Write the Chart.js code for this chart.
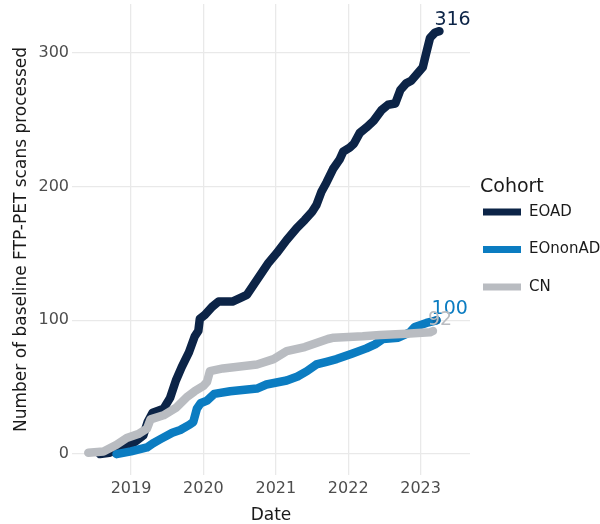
<!DOCTYPE html>
<html>
<head>
<meta charset="utf-8">
<script src="https://cdn.jsdelivr.net/npm/chart.js@4.4.1/dist/chart.umd.min.js"></script>
<style>
  html, body { margin: 0; padding: 0; background: #fff; }
  #wrap { width: 600px; height: 524px; }
</style>
</head>
<body>
<div id="wrap"><canvas id="chart" width="600" height="524"></canvas></div>
<script>
const yearTicks = [2019, 2020, 2021, 2022, 2023];
const countTicks = [0, 100, 200, 300];
const cohorts = ["EOAD", "EOnonAD", "CN"];
const colors = ["#0c2447", "#0b7cc1", "#b9bcc1"];

// cumulative counts, x in decimal years
const eoadX = [2018.57, 2018.70, 2018.80, 2018.92, 2019.05, 2019.17, 2019.23, 2019.30, 2019.45, 2019.54,
  2019.62, 2019.70, 2019.80, 2019.88, 2019.93, 2019.95, 2020.02, 2020.12, 2020.21, 2020.40,
  2020.52, 2020.60, 2020.70, 2020.80, 2020.90, 2021.01, 2021.15, 2021.29, 2021.40, 2021.50,
  2021.56, 2021.63, 2021.70, 2021.79, 2021.88, 2021.93, 2022.02, 2022.08, 2022.16, 2022.25,
  2022.35, 2022.46, 2022.55, 2022.65, 2022.72, 2022.80, 2022.87, 2022.95, 2023.03, 2023.07,
  2023.13, 2023.20, 2023.26];
const eoadY = [0, 1, 3, 6, 9, 14, 24, 31, 34, 42,
  55, 65, 76, 88, 92, 101, 104, 110, 114, 114,
  117, 119, 127, 135, 143, 150, 160, 169, 175, 181,
  186, 196, 203, 213, 220, 226, 229, 232, 240, 244,
  249, 257, 261, 262, 272, 277, 279, 284, 289, 298,
  311, 315, 316];

const eononX = [2018.80, 2019.00, 2019.22, 2019.30, 2019.40, 2019.57, 2019.68, 2019.81, 2019.86, 2019.91,
  2019.96, 2020.05, 2020.15, 2020.37, 2020.74, 2020.87, 2021.15, 2021.30, 2021.43, 2021.56,
  2021.70, 2021.84, 2022.05, 2022.25, 2022.37, 2022.48, 2022.69, 2022.85, 2022.92, 2023.08,
  2023.22];
const eononY = [0, 2, 5, 8, 11, 16, 18, 22, 24, 34,
  38, 40, 45, 47, 49, 52, 55, 58, 62, 67,
  69, 71, 75, 79, 82, 86, 87, 91, 95, 98,
  100];

const cnX = [2018.41, 2018.62, 2018.80, 2018.94, 2019.10, 2019.22, 2019.27, 2019.45, 2019.63, 2019.78,
  2019.88, 2020.00, 2020.05, 2020.09, 2020.27, 2020.74, 2020.97, 2021.15, 2021.40, 2021.56,
  2021.72, 2021.80, 2022.20, 2022.44, 2022.80, 2023.13, 2023.17];
const cnY = [1, 2, 7, 12, 15, 19, 26, 29, 35, 43,
  47, 51, 54, 62, 64, 67, 71, 77, 80, 83,
  86, 87, 88, 89, 90, 91, 92];

const seriesX = [eoadX, eononX, cnX];
const seriesY = [eoadY, eononY, cnY];
const drawOrder = [2, 1, 0];

const FONT = "'DejaVu Sans', Verdana, sans-serif";

const datasets = cohorts.map((name, i) => ({
  label: name,
  data: seriesX[i].map((x, k) => ({ x, y: seriesY[i][k] })),
  borderColor: colors[i],
  backgroundColor: colors[i],
  borderWidth: 8.5,
  borderCapStyle: "round",
  borderJoinStyle: "round",
  tension: 0,
  order: drawOrder[i],
  pointRadius: ctx => (i === 1 && ctx.dataIndex === seriesX[i].length - 1) ? 4 : 0,
  pointBackgroundColor: "#0a6aa8",
  pointBorderWidth: 0
}));

const endLabels = {
  id: "endLabels",
  afterDatasetsDraw(chart) {
    const { ctx } = chart;
    ctx.save();
    ctx.font = "19px " + FONT;
    ctx.textAlign = "left";
    ctx.textBaseline = "middle";
    [0, 1, 2].forEach(i => {
      const meta = chart.getDatasetMeta(i);
      const last = meta.data[meta.data.length - 1];
      const val = seriesY[i][seriesY[i].length - 1];
      ctx.fillStyle = colors[i];
      ctx.fillText(String(val), last.x - 5, last.y - 11);
    });
    ctx.restore();
  }
};

const cohortLegend = {
  id: "cohortLegend",
  afterDraw(chart) {
    const { ctx } = chart;
    const left = chart.chartArea.right + 10;
    ctx.save();
    ctx.fillStyle = "#1a1a1a";
    ctx.textAlign = "left";
    ctx.textBaseline = "middle";
    ctx.font = "19px " + FONT;
    ctx.fillText("Cohort", left, 187);
    ctx.font = "15px " + FONT;
    cohorts.forEach((name, i) => {
      const y = 212 + i * 37.5;
      ctx.strokeStyle = colors[i];
      ctx.lineWidth = 7;
      ctx.beginPath();
      ctx.moveTo(left + 3, y);
      ctx.lineTo(left + 41, y);
      ctx.stroke();
      ctx.fillStyle = "#1a1a1a";
      ctx.fillText(name, left + 49, y);
    });
    ctx.restore();
  }
};

new Chart(document.getElementById("chart"), {
  type: "line",
  data: { datasets },
  plugins: [endLabels, cohortLegend],
  options: {
    responsive: false,
    animation: false,
    layout: { padding: { left: 0, right: 130, top: 0, bottom: 0 } },
    plugins: { legend: { display: false }, tooltip: { enabled: false } },
    scales: {
      x: {
        type: "linear",
        min: 2018.185,
        max: 2023.682,
        afterBuildTicks: s => { s.ticks = yearTicks.map(v => ({ value: v })); },
        afterFit: s => { s.height = 49; s.paddingLeft = 0; s.paddingRight = 0; },
        grid: { color: "#e9e9e9", lineWidth: 1.3, drawTicks: false },
        border: { display: false },
        ticks: { color: "#4d4d4d", font: { family: FONT, size: 16 }, padding: 4, callback: v => String(v) },
        title: { display: true, text: "Date", color: "#1a1a1a", font: { family: FONT, size: 17, lineHeight: 1 }, padding: { top: 0, bottom: 0 } }
      },
      y: {
        type: "linear",
        min: -15.6,
        max: 336.3,
        afterBuildTicks: s => { s.ticks = countTicks.map(v => ({ value: v })); },
        afterFit: s => { s.width = 72; s.paddingTop = 0; s.paddingBottom = 0; },
        grid: { color: "#e9e9e9", lineWidth: 1.3, drawTicks: false },
        border: { display: false },
        ticks: { color: "#4d4d4d", font: { family: FONT, size: 16 }, padding: 3, callback: v => String(v) },
        title: { display: true, text: "Number of baseline FTP-PET scans processed", color: "#1a1a1a", font: { family: FONT, size: 17 }, padding: { top: 11, bottom: 0 } }
      }
    }
  }
});
</script>
</body>
</html>
